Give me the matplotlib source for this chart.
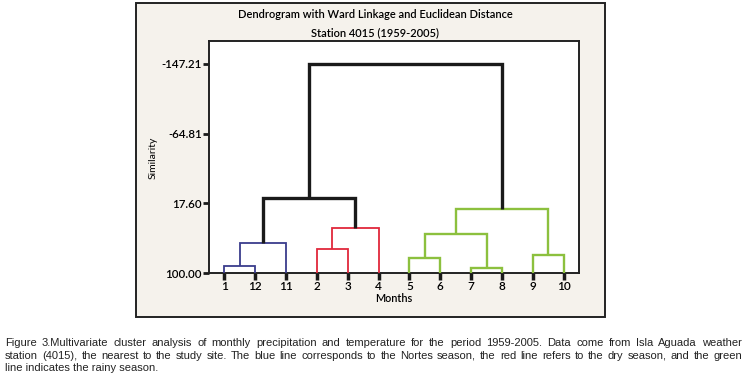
import matplotlib
matplotlib.use("Agg")
import matplotlib.pyplot as plt
import matplotlib.patches as mpatches

# leaf order as drawn (month numbers)
months = ['1', '12', '11', '2', '3', '4', '5', '6', '7', '8', '9', '10']

# merges: node ids 0-11 are leaves, new nodes numbered from 12 on
merge_left = [0, 12, 3, 14, 6, 8, 16, 10, 18, 13, 21]
merge_right = [1, 2, 4, 5, 7, 9, 17, 11, 19, 15, 20]
merge_sim = [91.7, 64.9, 71.3, 46.4, 82.3, 93.7, 53.5, 78.4, 23.9, 11.6, -147.21]
merge_group = ['blue', 'blue', 'red', 'red', 'green', 'green', 'green',
               'green', 'green', 'black', 'black']

yticks = [-147.21, -64.81, 17.60, 100.00]

colors = {'blue': '#3a3d8c', 'red': '#e0283c', 'green': '#8cc03e', 'black': '#1a1a1a'}
widths = {'blue': 1.3, 'red': 1.3, 'green': 1.7, 'black': 2.4}

plt.rcParams['font.family'] = ['Lato', 'DejaVu Sans']

fig = plt.figure(figsize=(7.48, 3.86), dpi=100)

# beige outer frame
frame = mpatches.Rectangle((136 / 748, 1 - 317 / 386), 469 / 748, 314 / 386,
                           transform=fig.transFigure, facecolor='#f5f2ec',
                           edgecolor='#222222', lw=1.4, zorder=-5)
fig.patches.append(frame)

ax = fig.add_axes([209 / 748, 1 - 273 / 386, 370 / 748, 232 / 386])
ax.set_zorder(2)
ax.set_facecolor('white')

# node positions and heights
xpos = {i: i + 1 for i in range(len(months))}
ypos = {i: 100.0 for i in range(len(months))}
for k, (l, r, h, g) in enumerate(zip(merge_left, merge_right, merge_sim, merge_group)):
    node = len(months) + k
    xl, xr = xpos[l], xpos[r]
    ax.plot([xl, xl, xr, xr], [ypos[l], h, h, ypos[r]], color=colors[g],
            lw=widths[g], solid_joinstyle='miter', solid_capstyle='butt', zorder=3)
    xpos[node] = (xl + xr) / 2
    ypos[node] = h

ax.set_xlim(0.5, 12.5)
ax.set_ylim(100, -174.3)
ax.set_xticks(range(1, len(months) + 1))
ax.set_xticklabels(months)
ax.set_yticks(yticks)
ax.set_yticklabels(['%.2f' % v for v in yticks])
ax.tick_params(axis='x', direction='out', length=5, width=2.5, pad=1,
               labelsize=8.5, color='#1a1a1a')
ax.tick_params(axis='y', direction='out', length=4, width=2, pad=1,
               labelsize=8.3, color='#1a1a1a')
for lab in ax.get_xticklabels() + ax.get_yticklabels():
    lab.set_fontweight('semibold')
for s in ax.spines.values():
    s.set_linewidth(1.4)
    s.set_color('#222222')

fig.text(375 / 748, 1 - 15 / 386, 'Dendrogram with Ward Linkage and Euclidean Distance',
         ha='center', va='center', fontsize=8, fontweight='semibold')
fig.text(375 / 748, 1 - 33 / 386, 'Station 4015 (1959-2005)',
         ha='center', va='center', fontsize=8, fontweight='semibold')
fig.text(153 / 748, 1 - 158 / 386, 'Similarity', rotation=90,
         ha='center', va='center', fontsize=7.5)
fig.text(394 / 748, 1 - 299 / 386, 'Months', ha='center', va='center', fontsize=7.8,
         fontweight='semibold')

# caption, first two lines justified
caption = [
    'Figure 3.Multivariate cluster analysis of monthly precipitation and temperature '
    'for the period 1959-2005. Data come from Isla Aguada weather',
    'station (4015), the nearest to the study site. The blue line corresponds to the '
    'Nortes season, the red line refers to the dry season, and the green',
    'line indicates the rainy season.',
]
cap_font = ['Liberation Sans', 'DejaVu Sans']
cap_size = 8.0
cap_y = [343, 356, 368]
x0, x1 = 5, 742
renderer = fig.canvas.get_renderer()
for i, line in enumerate(caption):
    y = 1 - cap_y[i] / 386
    if i == len(caption) - 1:
        fig.text(x0 / 748, y, line, ha='left', va='center', fontsize=cap_size,
                 family=cap_font, color='#222222')
        continue
    words = line.split(' ')
    texts = [fig.text(0, y, w, ha='left', va='center', fontsize=cap_size,
                      family=cap_font, color='#222222') for w in words]
    wpx = [t.get_window_extent(renderer).width for t in texts]
    gap = (x1 - x0 - sum(wpx)) / (len(words) - 1)
    x = x0
    for t, w in zip(texts, wpx):
        t.set_x(x / 748)
        x += w + gap

plt.savefig('out.png', dpi=100)
